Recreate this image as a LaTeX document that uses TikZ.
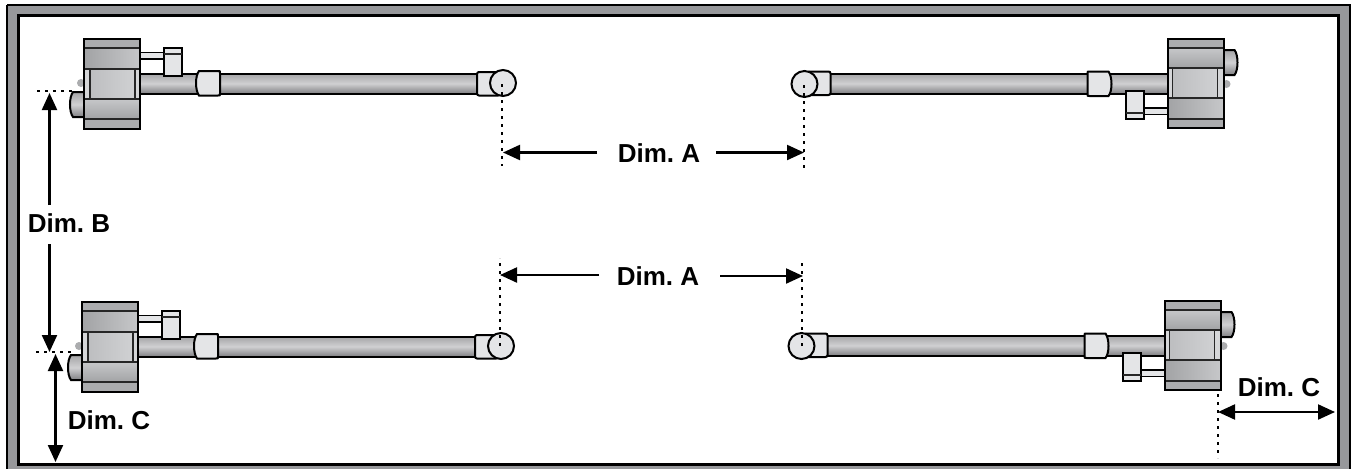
\documentclass[tikz,border=0pt]{standalone}
\usepackage{fontspec}
\setmainfont{Liberation Sans}
\usetikzlibrary{arrows.meta}
\definecolor{framegray}{HTML}{97989B}
\definecolor{lightpart}{HTML}{E4E5E7}
\definecolor{tubeA}{HTML}{A4A4A6}
\definecolor{tubeB}{HTML}{D0D0D2}
\definecolor{tubeC}{HTML}{808083}
\definecolor{bandA}{HTML}{A2A3A5}
\definecolor{bandB}{HTML}{C6C7C9}
\definecolor{midA}{HTML}{BDBEC0}
\definecolor{midB}{HTML}{D0D1D3}
\definecolor{sideP}{HTML}{D5D6D8}
\definecolor{stripP}{HTML}{ABACAE}
\definecolor{blobP}{HTML}{ABACAE}
\tikzset{
  x=1pt,y=-1pt,
  partline/.style={draw=black,line width=2pt},
  thinline/.style={draw=black!85,line width=1.5pt},
  tube/.style={partline,top color=tubeA,bottom color=tubeC,middle color=tubeB},
  collar/.style={partline,fill=lightpart},
  dimarrow/.style={-{Stealth[length=17pt,width=15pt,inset=0pt]},line width=2.2pt},
  dimboth/.style={{Stealth[length=17pt,width=15pt,inset=0pt]}-{Stealth[length=17pt,width=15pt,inset=0pt]},line width=2.2pt},
  dotline/.style={line width=2.8pt,dash pattern=on 2.8pt off 5.2pt,line cap=butt},
  lab/.style={font=\fontsize{26}{26}\bfseries\selectfont,inner sep=0pt},
}
\newcommand{\pivotunit}{%
  \fill[blobP] (81,83) circle (4);
  \path[partline,top color=tubeA,bottom color=tubeC,middle color=tubeB]
    (84,92) -- (73,92) .. controls (69,97) and (69,112) .. (73,117) -- (84,117) -- cycle;
  \path[draw=black,line width=1.8pt,fill=lightpart] (140,52.5) rectangle (164,59);
  \path[tube] (140,73.5) rectangle (478,93.5);
  \path[collar] (199,71) -- (218,71) .. controls (220,71) and (220,71) .. (220,73) -- (220,93.5) .. controls (220,95.5) and (220,95.5) .. (218,95.5) -- (199,95.5) .. controls (195,90) and (195,76) .. (199,71) -- cycle;
  \path[collar,rounded corners=2pt] (477,72) rectangle (500,95.5);
  \path[partline,fill=lightpart] (503,83) circle (13);
  \path[partline,fill=lightpart] (164,48) rectangle (182,76);
  \draw[thinline] (164,54) -- (182,54);
  \path[fill=stripP] (84,39) rectangle (140,128);
  \path[left color=bandA,right color=bandB] (84,48) rectangle (140,69);
  \path[top color=bandB,bottom color=bandA] (84,99) rectangle (140,119);
  \path[left color=midA,right color=midB] (90,69) rectangle (135,99);
  \fill[sideP] (84,69) rectangle (90,99);
  \fill[sideP] (135,69) rectangle (140,99);
  \draw[thinline] (84,48) -- (140,48) (84,69) -- (140,69) (84,99) -- (140,99) (84,119) -- (140,119)
    (90,69) -- (90,99) (135,69) -- (135,99);
  \draw[partline] (84,39) rectangle (140,128.5);
}
\begin{document}
\begin{tikzpicture}
\useasboundingbox (0,0) rectangle (1351,469);
\fill[white] (0,0) rectangle (1351,469);
\fill[framegray] (7,5) rectangle (1351,469);
\draw[black,line width=2.6pt] (7,5) -- (1351,5);
\draw[black,line width=2.6pt] (7,5) -- (7,469);
\draw[black,line width=2.6pt] (1350.5,5) -- (1350.5,469);
\draw[black,line width=3pt,fill=white] (18.5,15) rectangle (1338.5,464);
\begin{scope}\pivotunit\end{scope}
\begin{scope}[shift={(1307.5,167)},rotate=180]\pivotunit\end{scope}
\begin{scope}[shift={(-2,263)}]\pivotunit\end{scope}
\begin{scope}[shift={(1304.5,429)},rotate=180]\pivotunit\end{scope}
\coordinate (a1t) at (502,84); \coordinate (a1b) at (502,166);
\coordinate (a2t) at (804,85); \coordinate (a2b) at (804,169);
\coordinate (a3t) at (500,346); \coordinate (a3b) at (500,258);
\coordinate (a4t) at (802,346); \coordinate (a4b) at (802,262);
\coordinate (b1l) at (37,91); \coordinate (b1r) at (72,91);
\coordinate (b2l) at (36,352); \coordinate (b2r) at (72,352);
\coordinate (c1t) at (1218,394); \coordinate (c1b) at (1218,458);
\draw[dotline] (a1t) -- (a1b);
\draw[dotline] (a2t) -- (a2b);
\draw[dotline] (a3t) -- (a3b);
\draw[dotline] (a4t) -- (a4b);
\draw[dotline] (b1l) -- (b1r);
\draw[dotline] (b2l) -- (b2r);
\draw[dotline] (c1t) -- (c1b);
\frenchspacing
\node[lab] (dimA1) at (659,153) {Dim. A};
\node[lab] (dimA2) at (658,276) {Dim. A};
\node[lab] (dimB) at (69,223) {Dim. B};
\node[lab] (dimC1) at (109,420) {Dim. C};
\node[lab] (dimC2) at (1279,387) {Dim. C};
\coordinate (p1) at (597,152.5); \coordinate (p2) at (503,152.5);
\coordinate (p3) at (716,152.5); \coordinate (p4) at (804,152.5);
\coordinate (p5) at (599,275); \coordinate (p6) at (500,275);
\coordinate (p7) at (720,276); \coordinate (p8) at (803,276);
\coordinate (q1) at (49.5,205); \coordinate (q2) at (49.5,93);
\coordinate (q3) at (49.5,244); \coordinate (q4) at (49.5,352);
\coordinate (r1) at (55.5,354); \coordinate (r2) at (55.5,462);
\coordinate (s1) at (1218,412); \coordinate (s2) at (1335,412);
\draw[dimarrow] (p1) -- (p2);
\draw[dimarrow] (p3) -- (p4);
\draw[dimarrow] (p5) -- (p6);
\draw[dimarrow] (p7) -- (p8);
\draw[dimarrow] (q1) -- (q2);
\draw[dimarrow] (q3) -- (q4);
\draw[dimboth] (r1) -- (r2);
\draw[dimboth] (s1) -- (s2);
\end{tikzpicture}
\end{document}
